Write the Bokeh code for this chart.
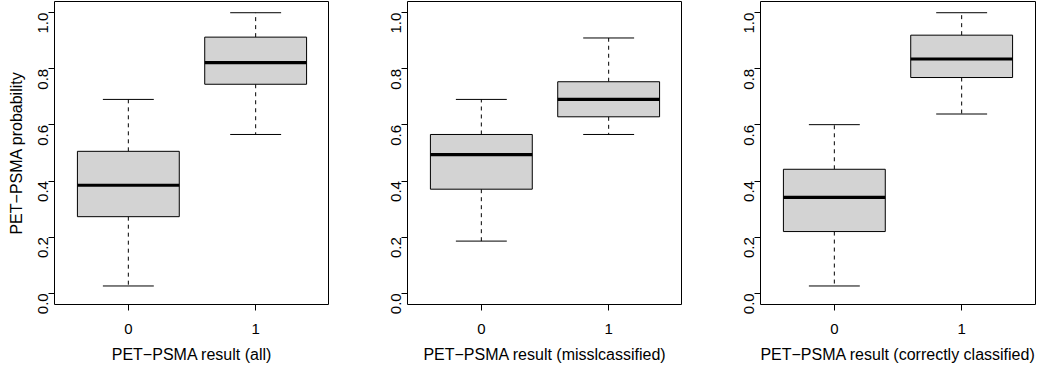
import math
from bokeh.plotting import figure
from bokeh.layouts import row
from bokeh.models import Range1d, FixedTicker, ColumnDataSource
from bokeh.embed import file_html
from bokeh.resources import INLINE

# ---- data ----
groups = [0, 1]
group_labels = ["0", "1"]
y_ticks = [0.0, 0.2, 0.4, 0.6, 0.8, 1.0]
y_tick_labels = ["0.0", "0.2", "0.4", "0.6", "0.8", "1.0"]

y_title = "PET\u2212PSMA probability"
x_titles = ["PET\u2212PSMA result (all)",
            "PET\u2212PSMA result (misslcassified)",
            "PET\u2212PSMA result (correctly classified)"]

all_lower = [0.026, 0.566]
all_q1 = [0.273, 0.745]
all_med = [0.385, 0.822]
all_q3 = [0.506, 0.913]
all_upper = [0.691, 1.000]

mis_lower = [0.186, 0.566]
mis_q1 = [0.371, 0.629]
mis_med = [0.494, 0.691]
mis_q3 = [0.566, 0.754]
mis_upper = [0.691, 0.910]

cor_lower = [0.026, 0.639]
cor_q1 = [0.220, 0.769]
cor_med = [0.342, 0.835]
cor_q3 = [0.442, 0.920]
cor_upper = [0.601, 1.000]

panels = [
    (all_lower, all_q1, all_med, all_q3, all_upper),
    (mis_lower, mis_q1, mis_med, mis_q3, mis_upper),
    (cor_lower, cor_q1, cor_med, cor_q3, cor_upper),
]

FONT = "Liberation Sans"
BOX_W = 0.8
CAP_W = 0.4


def make_panel(i, stats, xtitle):
    lower, q1, med, q3, upper = stats
    left = 54 if i == 0 else 78
    right = 3 if i == 2 else 0
    p = figure(frame_width=275, frame_height=303,
               min_border_left=left, min_border_right=right,
               min_border_top=1, min_border_bottom=55,
               x_range=Range1d(-0.58, 1.58), y_range=Range1d(-0.04, 1.04),
               output_backend="svg", toolbar_location=None, tools="")
    p.background_fill_color = "white"
    p.border_fill_color = "white"
    p.outline_line_color = "black"
    p.outline_line_alpha = 1.0
    p.outline_line_width = 1
    p.grid.visible = False

    src = ColumnDataSource(dict(
        x=groups, lower=lower, q1=q1, med=med, q3=q3, upper=upper,
        bl=[g - BOX_W / 2 for g in groups], br=[g + BOX_W / 2 for g in groups],
        cl=[g - CAP_W / 2 for g in groups], cr=[g + CAP_W / 2 for g in groups],
    ))
    # whiskers (dashed)
    p.segment(x0="x", y0="q3", x1="x", y1="upper", source=src,
              line_color="black", line_width=1, line_dash="4 4")
    p.segment(x0="x", y0="q1", x1="x", y1="lower", source=src,
              line_color="black", line_width=1, line_dash="4 4")
    # caps
    p.segment(x0="cl", y0="upper", x1="cr", y1="upper", source=src,
              line_color="black", line_width=1)
    p.segment(x0="cl", y0="lower", x1="cr", y1="lower", source=src,
              line_color="black", line_width=1)
    # boxes
    p.vbar(x="x", width=BOX_W, bottom="q1", top="q3", source=src,
           fill_color="#D3D3D3", line_color="black", line_width=1)
    # medians
    p.segment(x0="bl", y0="med", x1="br", y1="med", source=src,
              line_color="black", line_width=3.2)

    # axes
    xa = p.xaxis[0]
    xa.ticker = FixedTicker(ticks=groups)
    xa.major_label_overrides = {g: l for g, l in zip(groups, group_labels)}
    ya = p.yaxis[0]
    ya.ticker = FixedTicker(ticks=y_ticks)
    ya.major_label_overrides = {t: l for t, l in zip(y_ticks, y_tick_labels)}
    ya.major_label_orientation = math.pi / 2

    for ax in (xa, ya):
        ax.axis_line_color = None
        ax.major_tick_in = 0
        ax.major_tick_out = 6
        ax.major_tick_line_color = "black"
        ax.minor_tick_line_color = None
        ax.major_label_text_font = FONT
        ax.major_label_text_font_size = "15px"
        ax.major_label_text_color = "black"
        ax.axis_label_text_font = FONT
        ax.axis_label_text_font_size = "16px"
        ax.axis_label_text_font_style = "normal"
        ax.axis_label_text_color = "black"
    xa.major_label_standoff = 13
    xa.axis_label_standoff = 9
    ya.major_label_standoff = 5
    ya.axis_label_standoff = 6
    xa.axis_label = xtitle
    if i == 0:
        ya.axis_label = y_title
    return p


figs = [make_panel(i, st, xt) for i, (st, xt) in enumerate(zip(panels, x_titles))]
layout = row(*figs)

open("out.html", "w").write(file_html(layout, INLINE))
